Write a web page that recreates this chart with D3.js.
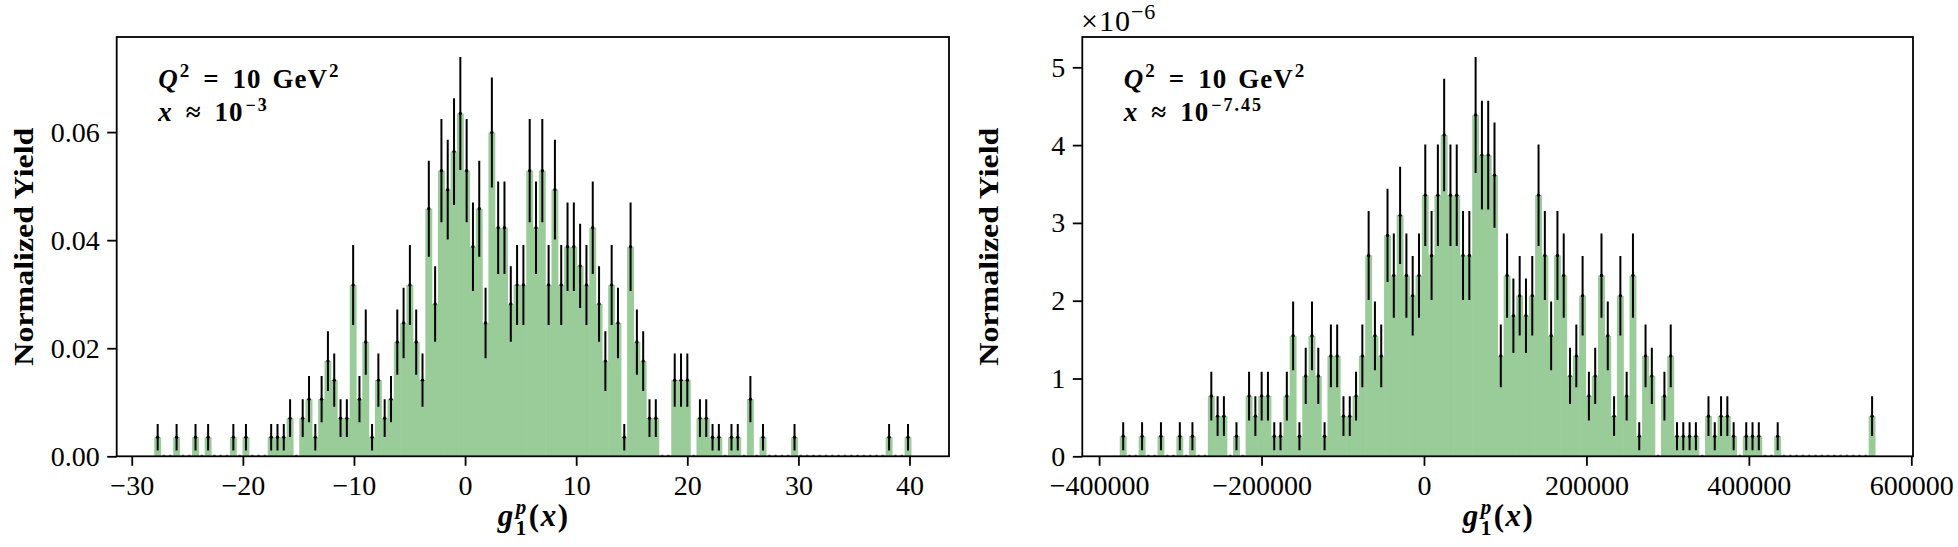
<!DOCTYPE html>
<html>
<head>
<meta charset="utf-8">
<script src="https://cdn.jsdelivr.net/npm/d3@7"></script>
<style>
  body { margin: 0; background: #fff; }
  svg { display: block; }
  .tick text { font-family: "Liberation Serif", serif; font-size: 28px; fill: #000; }
</style>
</head>
<body>
<div id="chart"></div>
<script>
// bin counts (500 samples, 120 equal bins per panel)
var nSamples = 500;
var errScale = 0.7; // error bar half length = errScale * sqrt(n) counts

var leftRange = [-27.95, 40.15];
var leftCounts = [
  1,0,0,1,0,0,1,0,1,0,
  0,0,1,0,1,0,0,0,1,1,
  1,2,0,2,3,1,3,5,4,2,
  2,9,3,6,1,4,2,3,6,7,
  9,6,4,13,8,15,14,16,18,15,
  11,13,7,17,12,12,8,9,9,15,
  12,15,9,14,9,11,11,10,9,12,
  8,5,9,7,1,11,6,5,2,2,
  0,0,4,4,4,0,2,2,1,1,
  0,1,1,0,3,0,1,0,0,0,
  0,1,0,0,0,0,0,0,0,0,
  0,0,0,0,0,0,1,0,0,1
];
var leftXTicks = [-30, -20, -10, 0, 10, 20, 30, 40];
var leftYTicks = [0, 0.02, 0.04, 0.06];

var rightRange = [-374200, 555600];
var rightCounts = [
  1,0,0,1,0,0,1,0,0,1,
  0,1,0,0,3,2,2,0,1,0,
  3,2,3,3,1,1,3,6,1,4,
  6,4,1,5,5,2,2,3,5,10,
  6,5,11,9,12,9,8,9,13,10,
  13,16,13,13,10,10,17,15,15,14,
  5,9,7,8,7,8,13,10,6,10,
  9,4,5,8,3,4,9,6,2,8,
  3,9,1,5,4,0,3,5,1,1,
  1,1,0,2,1,2,2,1,0,1,
  1,1,0,0,1,0,0,0,0,0,
  0,0,0,0,0,0,0,0,0,2
];
var rightXTicks = [-400000, -200000, 0, 200000, 400000, 600000];
var rightYTicks = [0, 1e-6, 2e-6, 3e-6, 4e-6, 5e-6];

var width = 1958, height = 547;
var barColour = "#99cc99";
var fontFamily = "'Liberation Serif', serif";

var svg = d3.select("#chart").append("svg")
  .attr("width", width)
  .attr("height", height);

function histPanel(obj) {
  var counts = obj.counts;
  var lo = obj.range[0], hi = obj.range[1];
  var nb = counts.length;
  var w = (hi - lo) / nb;
  var norm = 1 / (nSamples * w);
  var bins = counts.map(function(n, i) {
    return {
      x0: lo + i * w,
      x1: lo + (i + 1) * w,
      xc: lo + (i + 0.5) * w,
      y: n * norm,
      e: errScale * Math.sqrt(n) * norm
    };
  });

  var span = hi - lo;
  var x = d3.scaleLinear()
    .domain([lo - 0.05 * span, hi + 0.05 * span])
    .range([obj.left, obj.right]);
  var ymax = d3.max(bins, function(d) { return d.y + d.e; }) * 1.05;
  var y = d3.scaleLinear()
    .domain([0, ymax])
    .range([obj.bottom, obj.top]);

  var g = svg.append("g");
  var clipId = "clip" + obj.name;
  g.append("clipPath").attr("id", clipId)
    .append("rect")
    .attr("x", obj.left).attr("y", obj.top)
    .attr("width", obj.right - obj.left).attr("height", obj.bottom - obj.top);

  var plot = g.append("g").attr("clip-path", "url(#" + clipId + ")");

  // bars
  plot.selectAll("rect.bar")
    .data(bins.filter(function(d) { return d.y > 0; }))
    .enter().append("rect")
    .attr("class", "bar")
    .attr("x", function(d) { return x(d.x0) - 0.3; })
    .attr("width", function(d) { return x(d.x1) - x(d.x0) + 0.6; })
    .attr("y", function(d) { return y(d.y); })
    .attr("height", function(d) { return y(0) - y(d.y); })
    .style("fill", barColour);

  // error bars
  plot.selectAll("line.err")
    .data(bins.filter(function(d) { return d.e > 0; }))
    .enter().append("line")
    .attr("class", "err")
    .attr("x1", function(d) { return x(d.xc); })
    .attr("x2", function(d) { return x(d.xc); })
    .attr("y1", function(d) { return y(d.y - d.e); })
    .attr("y2", function(d) { return y(d.y + d.e); })
    .style("stroke", "#000")
    .style("stroke-width", 2);

  plot.selectAll("circle.pt")
    .data(bins)
    .enter().append("circle")
    .attr("class", "pt")
    .attr("cx", function(d) { return x(d.xc); })
    .attr("cy", function(d) { return y(d.y); })
    .attr("r", 1.7)
    .style("fill", function(d) { return d.y > 0 ? "#000" : "#777"; });

  // axes
  var xAxis = g.append("g")
    .attr("transform", "translate(0," + obj.bottom + ")")
    .call(d3.axisBottom(x).tickValues(obj.xTicks).tickFormat(d3.format("d"))
      .tickSize(9.5).tickPadding(9));
  var yAxis = g.append("g")
    .attr("transform", "translate(" + obj.left + ",0)")
    .call(d3.axisLeft(y).tickValues(obj.yTicks).tickFormat(obj.yFormat)
      .tickSize(9.5).tickPadding(7.5));
  [xAxis, yAxis].forEach(function(a) {
    a.select(".domain").remove();
    a.selectAll(".tick line").style("stroke", "#000").style("stroke-width", 1.8);
  });

  // frame
  g.append("rect")
    .attr("x", obj.left).attr("y", obj.top)
    .attr("width", obj.right - obj.left).attr("height", obj.bottom - obj.top)
    .style("fill", "none").style("stroke", "#000").style("stroke-width", 1.8);

  // y label
  g.append("text")
    .attr("transform", "translate(" + (obj.left - 84) + "," + ((obj.top + obj.bottom) / 2) + ") rotate(-90)")
    .attr("text-anchor", "middle")
    .attr("textLength", 238)
    .attr("lengthAdjust", "spacingAndGlyphs")
    .style("font-family", fontFamily)
    .style("font-weight", "bold")
    .style("font-size", "28px")
    .text("Normalized Yield");

  // x label g_1^p(x)
  var xl = g.append("text")
    .attr("x", (obj.left + obj.right) / 2 - 35)
    .attr("y", 526)
    .style("font-family", fontFamily)
    .style("font-weight", "bold")
    .style("font-size", "31px")
    .style("letter-spacing", "1.5px");
  xl.append("tspan").style("font-style", "italic").text("g");
  xl.append("tspan").style("font-style", "italic").style("font-size", "21px")
    .attr("dx", 1).attr("dy", -12).text("p");
  xl.append("tspan").style("font-size", "21px")
    .attr("dx", -12).attr("dy", 21).text("1");
  xl.append("tspan").attr("dx", 1).attr("dy", -9).text("(");
  xl.append("tspan").style("font-style", "italic").text("x");
  xl.append("tspan").text(")");

  // annotation, two lines in one text
  var ax = obj.left + 41.5;
  var a = g.append("text")
    .attr("x", ax).attr("y", 88)
    .style("font-family", fontFamily)
    .style("font-weight", "bold")
    .style("font-size", "27px")
    .style("letter-spacing", "1px");
  a.append("tspan").style("font-style", "italic").text("Q");
  a.append("tspan").style("font-size", "19px").attr("dx", 1).attr("dy", -11).text("2");
  a.append("tspan").attr("dx", 13).attr("dy", 11).text("=");
  a.append("tspan").attr("dx", 13).text("10");
  a.append("tspan").attr("dx", 11).text("GeV");
  a.append("tspan").style("font-size", "19px").attr("dx", 1).attr("dy", -11).text("2");
  a.append("tspan").attr("x", ax).attr("y", 121).style("font-style", "italic").text("x");
  a.append("tspan").attr("dx", 13).text("\u2248");
  a.append("tspan").attr("dx", 13).text("10");
  a.append("tspan").style("font-size", "18px").style("letter-spacing", "2px")
    .attr("dx", 2).attr("dy", -10).text(obj.xExp);

  return g;
}

histPanel({
  name: "L", counts: leftCounts, range: leftRange,
  xTicks: leftXTicks, yTicks: leftYTicks, yFormat: d3.format(".2f"),
  left: 116.7, right: 949, top: 37, bottom: 456.3,
  xExp: "\u22123"
});

histPanel({
  name: "R", counts: rightCounts, range: rightRange,
  xTicks: rightXTicks, yTicks: rightYTicks,
  yFormat: function(v) { return d3.format("d")(Math.round(v * 1e6)); },
  left: 1082.3, right: 1913, top: 37, bottom: 456.3,
  xExp: "\u22127.45"
});

// offset text on the right y axis
var off = svg.append("text")
  .attr("x", 1081).attr("y", 31)
  .style("font-family", fontFamily)
  .style("font-size", "30px")
  .style("letter-spacing", "1px");
off.append("tspan").text("\u00d710");
off.append("tspan").style("font-size", "22px").attr("dy", -12).text("\u22126");
</script>
</body>
</html>
